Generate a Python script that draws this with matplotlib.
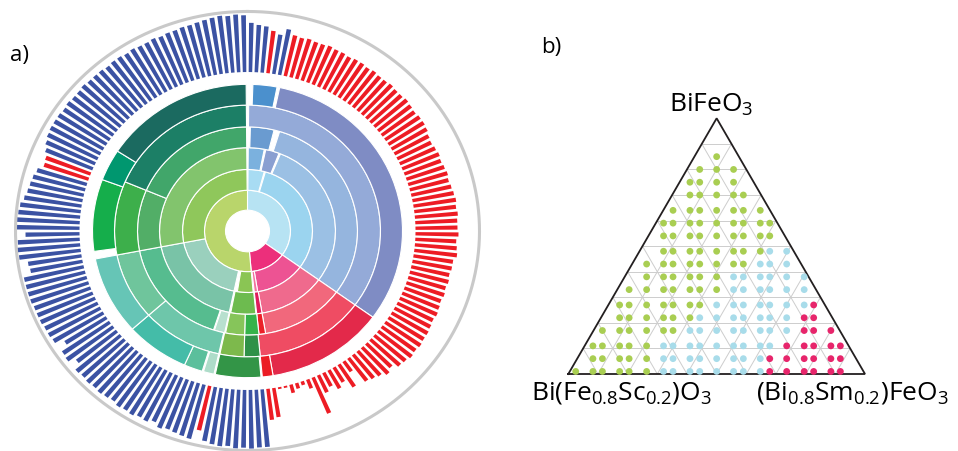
import numpy as np
import matplotlib.pyplot as plt

plt.rcParams['font.family'] = ['Open Sans', 'DejaVu Sans']

# ---------------- a) sunburst + outer bar ring ----------------
# ring boundaries (radius units of the polar axes)
ring_edges = [22, 43, 65, 88, 110, 133, 155]

# each ring: (start deg, end deg, colour), clockwise from 12 o'clock
ring1 = [(0, 126, '#B7E3F3'), (126, 175, '#EC2F7B'), (175, 360, '#B9D56B')]
ring2 = [(0.5, 15, '#A8DCF3'), (16, 126, '#9BD4EF'), (126, 171, '#ED5393'),
         (171, 174, '#F2739F'), (175, 189, '#8AC554'), (192, 259, '#9AD0BD'),
         (259, 359.5, '#8FC75B')]
ring3 = [(0.5, 11, '#7BB1DE'), (12, 21, '#8A9FD1'), (22, 126, '#9BC0E4'),
         (126, 170.5, '#EF6A8D'), (170.5, 174, '#E01D5B'), (174.5, 191, '#6DBB4F'),
         (192, 259, '#79C3A7'), (259, 359.5, '#82C46D')]
ring4 = [(1.5, 14, '#6A9BD0'), (17, 126, '#95B5DE'), (126, 170.5, '#F1687C'),
         (170.5, 174, '#EB2129'), (174, 181.5, '#35B34A'), (181.5, 191.5, '#86C55A'),
         (192, 197.5, '#B8E0CF'), (198, 259, '#56BC8F'), (259, 293, '#52AE67'),
         (293, 359.5, '#41A66A')]
ring5 = [(0.5, 126, '#94AAD8'), (126, 174.5, '#EF4C63'), (174.5, 181.5, '#2F9148'),
         (181.5, 192, '#7DB94C'), (192.5, 228, '#6EC6AA'), (228, 259, '#6FC59C'),
         (259, 293, '#3DAF4B'), (293, 359.5, '#1C7F66')]
ring6 = [(2, 11, '#4B90CD'), (12, 126, '#7F8CC4'), (126, 170.5, '#E3294A'),
         (170.5, 174.5, '#EB1C24'), (175, 192, '#339547'), (192.5, 196.5, '#AEDCC9'),
         (197, 204, '#5BBF9C'), (204, 228, '#44BCA8'), (228, 259, '#66C5B6'),
         (262, 290.5, '#15AE4B'), (290.5, 303, '#00976F'), (303, 359.5, '#1B6A60')]
rings = [ring1, ring2, ring3, ring4, ring5, ring6]

# outer bars: one bar every 2 degrees (1, 3, ..., 359), outer radius of each bar
bar_outer = (
    [220, 218, 217, 213, 210, 217]
    + [212, 211, 212, 211, 211, 212, 211, 211, 210, 211, 211, 210,
       211, 210, 210, 211, 210, 210, 211, 210, 209, 210, 210, 209]
    + [207, 206, 207, 208, 207, 208, 209, 208, 209, 210, 211, 210,
       211, 210, 210, 211, 209, 210, 211, 208, 208, 207, 208, 207,
       208, 207, 208, 209, 208, 209, 210, 210]
    + [211, 210, 211, 209, 208, 203, 206, 202, 200, 198, 181, 196, 186,
       190, 184, 188, 209, 178, 172, 174, 177, 170, 170, 199, 201]
    + [229, 229, 230, 229, 230, 228, 229, 228, 226, 216,
       227, 226, 225, 224, 226, 222, 225, 224, 226, 225,
       226, 224, 225, 226, 225, 226, 225, 226, 219, 226,
       225, 217, 226, 227, 227, 228, 228, 228, 229, 229,
       229, 229, 221, 222, 230, 231, 230, 222, 231, 231,
       230, 229, 226, 224, 223, 222, 220, 215, 216, 219,
       222, 224, 225, 225, 225, 224, 225, 224, 224, 225,
       224, 224, 224, 223, 224, 224, 223, 224, 223, 223,
       224, 223, 224, 224, 225, 225, 226, 227, 228, 229,
       228, 229, 228]
)
# b = blue, r = red
bar_kind = list('bbbrbb' + 'r' * 81 + 'b' * 9 + 'r' + 'b' * 47 + 'rr' + 'b' * 34)
bar_base = 168
kind_colour = {'b': '#3B52A3', 'r': '#ED1C24'}

# ---------------- b) ternary diagram ----------------
# BiFeO3 fraction of each dot row (top to bottom)
bfo_levels = [0.85, 0.80, 0.75, 0.70, 0.64, 0.59, 0.54, 0.48, 0.43, 0.38,
              0.33, 0.27, 0.22, 0.17, 0.11, 0.06, 0.01]
# horizontal position (fraction of base) of the dot columns
col_pos = [0.025, 0.083, 0.115, 0.173, 0.205, 0.264, 0.321, 0.353, 0.410, 0.443,
           0.500, 0.557, 0.590, 0.647, 0.679, 0.736, 0.795, 0.827, 0.885, 0.917]
# phase of each dot: g = green, b = light blue, p = pink, . = none
row_phase = [
    '..........g.........',
    '.........ggg........',
    '........gggg........',
    '........ggggg.......',
    '.......ggggggg......',
    '......ggggggggg.....',
    '......ggggggggg.....',
    '......ggggggggbb....',
    '.....ggggggggbbb....',
    '.....ggggggbbbbbb...',
    '....gggggggbbbbbb...',
    '...gggggggbbbbbbbp..',
    '...ggggggbbbbbbbpp..',
    '..ggggggbbbbbbbbppp.',
    '.gggggbbbbbbbbbppppp',
    '.gggggbbbbbbbbpppppp',
    'ggggggbbbbbbbbpppppp',
]
phase_colour = {'g': '#A9CE52', 'b': '#A8DCEA', 'p': '#E7256B'}

W, H = 958, 452
fig = plt.figure(figsize=(W / 100, H / 100), dpi=100)


def px_rect(left, top, width, height):
    return [left / W, 1 - (top + height) / H, width / W, height / H]


# polar axes, slightly squashed vertically like the original
R = 236
cx, cy = 247.5, 232
ry = R * 220 / 232.5
ax = fig.add_axes(px_rect(cx - R, cy - ry, 2 * R, 2 * ry), projection='polar')
ax.set_aspect('auto')
ax.set_theta_zero_location('N')
ax.set_theta_direction(-1)
ax.set_ylim(0, R)
ax.axis('off')

for k, ring in enumerate(rings):
    r0, r1 = ring_edges[k], ring_edges[k + 1]
    for start, end, col in ring:
        ax.bar(np.deg2rad(start), r1 - r0, width=np.deg2rad(end - start),
               bottom=r0, align='edge', color=col, edgecolor='white', linewidth=0.8)

bar_theta = np.deg2rad(1 + 2 * np.arange(len(bar_outer)))
ax.bar(bar_theta, np.array(bar_outer) - bar_base, width=np.deg2rad(1.2),
       bottom=bar_base, color=[kind_colour[k] for k in bar_kind], linewidth=0)

circ = np.linspace(0, 2 * np.pi, 400)
ax.plot(circ, np.full_like(circ, 232), color='#C9C9C9', lw=2.2, clip_on=False)

# ternary axes
h = 0.862
bx = fig.add_axes(px_rect(568.3, 119.3, 296.7, 255.7))
bx.set_xlim(0, 1)
bx.set_ylim(0, h)
bx.axis('off')

for k in range(1, 10):
    f = k / 10
    bx.plot([f / 2, 1 - f / 2], [f * h, f * h], color='#CDCDCD', lw=0.7)
    bx.plot([f, f + (1 - f) / 2], [0, (1 - f) * h], color='#CDCDCD', lw=0.7)
    bx.plot([1 - f, (1 - f) / 2], [0, (1 - f) * h], color='#CDCDCD', lw=0.7)
bx.plot([0, 1, 0.5, 0], [0, 0, h, 0], color='#231F20', lw=1.3, clip_on=False,
        solid_joinstyle='miter')

xs, ys, cs = [], [], []
for a, codes in zip(bfo_levels, row_phase):
    for x, c in zip(col_pos, codes):
        if c != '.':
            xs.append(x)
            ys.append(a * h)
            cs.append(phase_colour[c])
bx.scatter(xs, ys, s=24, c=cs, linewidths=0, clip_on=False, zorder=3)

fs = 19
fig.text(711 / W, 1 - 112 / H, r'BiFeO$_{\mathdefault{3}}$', ha='center', va='baseline', fontsize=fs)
fig.text(531 / W, 1 - 400 / H, r'Bi(Fe$_{\mathdefault{0.8}}$Sc$_{\mathdefault{0.2}}$)O$_{\mathdefault{3}}$',
         ha='left', va='baseline', fontsize=fs)
fig.text(756 / W, 1 - 400 / H, r'(Bi$_{\mathdefault{0.8}}$Sm$_{\mathdefault{0.2}}$)FeO$_{\mathdefault{3}}$',
         ha='left', va='baseline', fontsize=fs)

fig.text(10 / W, 1 - 61 / H, 'a)', fontsize=16, va='baseline')
fig.text(541 / W, 1 - 53 / H, 'b)', fontsize=16, va='baseline')

fig.savefig('out.png', dpi=100)
